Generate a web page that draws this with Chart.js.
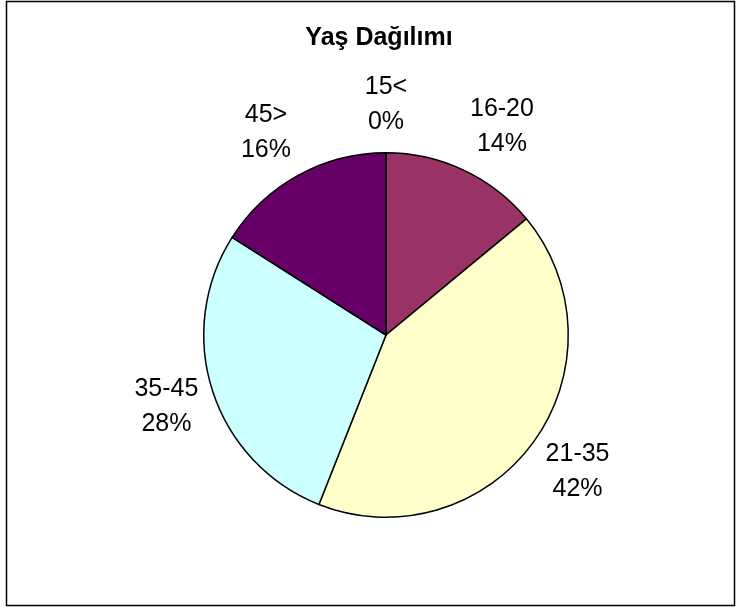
<!DOCTYPE html>
<html>
<head>
<meta charset="utf-8">
<script src="https://cdn.jsdelivr.net/npm/chart.js@4"></script>
<style>
  html, body { margin: 0; padding: 0; background: #fff; }
  #wrap { position: absolute; left: 0; top: 0; width: 740px; height: 610px; }
</style>
</head>
<body>
<div id="wrap"><canvas id="yas" width="740" height="610"></canvas></div>
<script>
// veriler
const chartTitle = "Yaş Dağılımı";
const ageGroups = ["15<", "16-20", "21-35", "35-45", "45>"];
const shares = [0, 14, 42, 28, 16];
const sliceColors = ["#9999FF", "#993366", "#FFFFCC", "#CCFFFF", "#660066"];

// çerçeve, başlık ve dilim etiketleri
const excelLook = {
    id: "excelLook",
    beforeDraw: function (chart) {
        let ctx = chart.ctx;
        ctx.save();
        ctx.fillStyle = "#fff";
        ctx.fillRect(0, 0, chart.width, chart.height);
        ctx.strokeStyle = "#000";
        ctx.lineWidth = 1.5;
        ctx.strokeRect(6.5, 1.5, 728, 604);
        ctx.restore();
    },
    afterDatasetsDraw: function (chart) {
        let ctx = chart.ctx;
        let total = shares.reduce(function (a, b) { return a + b; }, 0);
        ctx.save();
        ctx.fillStyle = "#000";
        ctx.textAlign = "center";
        ctx.textBaseline = "middle";
        ctx.font = "bold 25px 'Liberation Sans', Arial, sans-serif";
        ctx.fillText(chartTitle, 379, 38);

        ctx.font = "25px 'Liberation Sans', Arial, sans-serif";
        let meta = chart.getDatasetMeta(0);
        meta.data.forEach(function (arc, i) {
            let p = arc.getProps(["x", "y", "startAngle", "endAngle", "outerRadius"], true);
            let mid = (p.startAngle + p.endAngle) / 2;
            let ux = Math.cos(mid), uy = Math.sin(mid);
            let pct = Math.round(shares[i] / total * 100) + "%";
            let w = Math.max(ctx.measureText(ageGroups[i]).width, ctx.measureText(pct).width);
            // kutunun kenarı dilimin dışına değsin
            let r = p.outerRadius + 15;
            let sx = Math.max(-1, Math.min(1, ux * 3));
            let lx = p.x + ux * r + sx * w / 2;
            let ly = p.y + uy * r + uy * 34;
            ctx.fillText(ageGroups[i], lx, ly - 17);
            ctx.fillText(pct, lx, ly + 18);
        });
        ctx.restore();
    }
};

let yasChart = new Chart(document.getElementById("yas"), {
    type: "pie",
    data: {
        labels: ageGroups,
        datasets: [
            {
                label: chartTitle,
                data: shares,
                backgroundColor: sliceColors,
                borderColor: "#000",
                borderWidth: 1.5,
            },
        ],
    },
    options: {
        responsive: false,
        animation: false,
        layout: {
            padding: { left: 203, right: 171, top: 152, bottom: 92 }
        },
        plugins: {
            legend: { display: false },
            tooltip: { enabled: false },
            title: { display: false }
        }
    },
    plugins: [excelLook]
});
</script>
</body>
</html>
